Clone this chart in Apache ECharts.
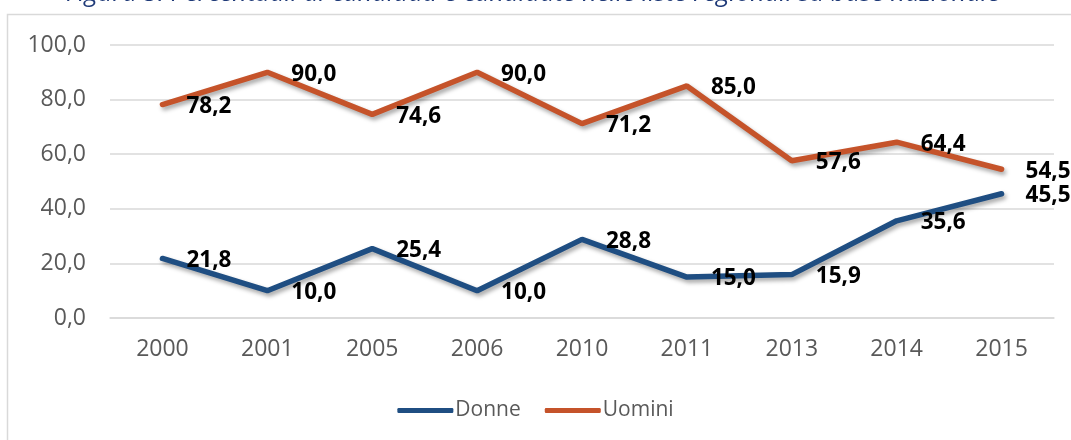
<!DOCTYPE html>
<html>
<head>
<meta charset="utf-8">
<script src="https://cdn.jsdelivr.net/npm/echarts@6/dist/echarts.min.js"></script>
<style>
html,body{margin:0;padding:0;background:#fff;}
#chart{width:1071px;height:440px;}
</style>
</head>
<body>
<div id="chart"></div>
<script>
// dati
var anni = ['2000','2001','2005','2006','2010','2011','2013','2014','2015'];
var donne = [21.8, 10.0, 25.4, 10.0, 28.8, 15.0, 15.9, 35.6, 45.5];
var uomini = [78.2, 90.0, 74.6, 90.0, 71.2, 85.0, 57.6, 64.4, 54.5];
var legenda = ['Donne', 'Uomini'];

function fmt(v){
	return v.toFixed(1).replace('.', ',');
}

var chartsDom = document.getElementById('chart');
var myCharts = echarts.init(chartsDom);

var labelCfg = {
	show: true,
	position: 'right',
	distance: 24,
	offset: [0, 2],
	fontFamily: 'Open Sans',
	fontWeight: 'bold',
	fontSize: 22.5,
	color: '#000',
	formatter: function(p){ return fmt(p.value); }
};

var option = {
	animation: false,
	graphic: [
		{ type: 'rect', shape: { x: 7.5, y: 14.5, width: 1080, height: 440 },
		  style: { fill: 'none', stroke: '#d9d9d9', lineWidth: 1.5 } },
		{ type: 'text', x: 533, y: 7,
		  style: { text: 'Figura 5: Percentuali di candidati e candidate nelle liste regionali su base nazionale',
		           align: 'center', verticalAlign: 'bottom', fill: '#1f3a78', font: 'italic 25.5px "Open Sans"' } }
	],
	grid: { left: 110, right: 17, top: 45, bottom: 122 },
	legend: {
		data: legenda,
		bottom: 14,
		left: 'center',
		itemWidth: 56,
		itemHeight: 5,
		itemGap: 24,
		textStyle: { fontFamily: 'Open Sans', fontSize: 21, color: '#595959', padding: [0, 0, 0, -3] },
		icon: 'roundRect'
	},
	xAxis: {
		type: 'category',
		data: anni,
		boundaryGap: true,
		axisLine: { lineStyle: { color: '#d9d9d9', width: 1.5 } },
		axisTick: { show: false },
		axisLabel: { fontFamily: 'Open Sans', fontSize: 23, color: '#595959', margin: 20 }
	},
	yAxis: {
		type: 'value',
		min: 0, max: 100, interval: 20,
		axisLine: { show: false },
		axisTick: { show: false },
		splitLine: { lineStyle: { color: '#d9d9d9', width: 1.5 } },
		axisLabel: { fontFamily: 'Open Sans', fontSize: 23, color: '#595959', margin: 24,
			formatter: function(v){ return fmt(v); } }
	},
	series: [
		{
			name: 'Donne', type: 'line', data: donne,
			symbol: 'circle', symbolSize: 0, showSymbol: true,
			itemStyle: { color: '#1f4e82' },
			lineStyle: { width: 5.5, color: '#1f4e82', cap: 'round',
				shadowColor: 'rgba(0,0,0,0.35)', shadowBlur: 4, shadowOffsetX: 2, shadowOffsetY: 3 },
			label: labelCfg
		},
		{
			name: 'Uomini', type: 'line', data: uomini,
			symbol: 'circle', symbolSize: 0, showSymbol: true,
			itemStyle: { color: '#c5532a' },
			lineStyle: { width: 5.5, color: '#c5532a', cap: 'round',
				shadowColor: 'rgba(0,0,0,0.35)', shadowBlur: 4, shadowOffsetX: 2, shadowOffsetY: 3 },
			label: labelCfg
		}
	]
};
myCharts.setOption(option);
</script>
</body>
</html>
